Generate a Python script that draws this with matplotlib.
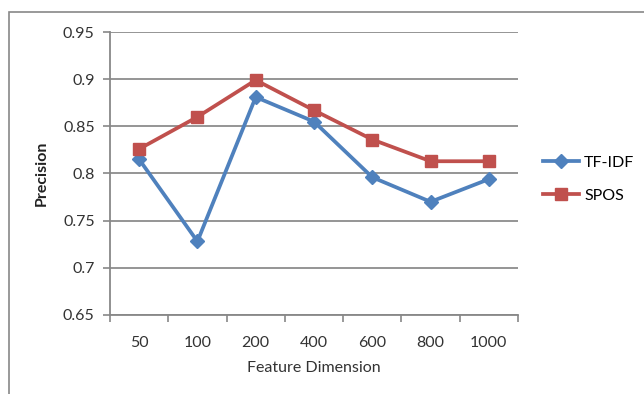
import matplotlib
matplotlib.use("Agg")
import matplotlib.pyplot as plt
from matplotlib.patches import Rectangle
from matplotlib.ticker import FixedLocator, NullFormatter

# data
dims = ["50", "100", "200", "400", "600", "800", "1000"]
tfidf = [0.815, 0.728, 0.881, 0.855, 0.796, 0.770, 0.794]
spos = [0.826, 0.860, 0.899, 0.867, 0.836, 0.813, 0.813]
yticks = [0.65, 0.7, 0.75, 0.8, 0.85, 0.9, 0.95]
ytick_labels = ["0.65", "0.7", "0.75", "0.8", "0.85", "0.9", "0.95"]

plt.rcParams["font.family"] = ["Lato", "DejaVu Sans"]

fig = plt.figure(figsize=(6.44, 3.94), dpi=100)
# outer chart border (cut off on right and bottom like the screenshot)
fig.patches.append(Rectangle((9 / 644, -0.1), 1.1, 1 - 12 / 394 + 0.1,
                             transform=fig.transFigure, fill=False,
                             edgecolor="#888888", lw=1.2))

ax = fig.add_axes([110 / 644, 1 - 315 / 394, 408 / 644, 283 / 394])

x = list(range(len(dims)))
ax.plot(x, tfidf, color="#4F81BD", lw=2.7, marker="D", ms=7, label="TF-IDF")
ax.plot(x, spos, color="#C0504D", lw=2.7, marker="s", ms=8.5, label="SPOS")

ax.set_xlim(-0.5, len(dims) - 0.5)
ax.set_ylim(0.65, 0.95)
ax.set_yticks(yticks)
ax.set_yticklabels(ytick_labels)
ax.set_xticks(x)
ax.set_xticklabels(dims)
ax.xaxis.set_minor_locator(FixedLocator([i - 0.5 for i in range(len(dims) + 1)]))
ax.xaxis.set_minor_formatter(NullFormatter())

ax.tick_params(axis="x", which="major", length=0, pad=15, labelsize=11.5, colors="#333333")
ax.tick_params(axis="x", which="minor", length=5, width=1.2, color="#888888")
ax.tick_params(axis="y", length=5, width=1.2, color="#888888", pad=6, labelsize=11.5,
               labelcolor="#333333")

ax.grid(axis="y", color="#8c8c8c", lw=1.3)
ax.set_axisbelow(True)
for side in ["top", "right"]:
    ax.spines[side].set_visible(False)
for side in ["left", "bottom"]:
    ax.spines[side].set_color("#888888")
    ax.spines[side].set_linewidth(1.3)

ax.set_ylabel("Precision", fontsize=11.5, fontweight="bold", color="#222222", labelpad=10)
ax.set_xlabel("Feature Dimension", fontsize=11.5, color="#333333", labelpad=8)

ax.legend(loc="center left", bbox_to_anchor=(1.025, 0.48), frameon=False,
          fontsize=11.5, handlelength=2.3, labelspacing=1.2, handletextpad=0.3)

fig.savefig("out.png", dpi=100)
